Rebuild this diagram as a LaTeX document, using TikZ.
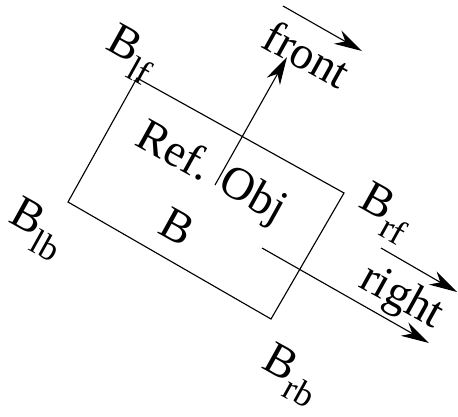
\documentclass[tikz,border=0pt]{standalone}
\usepackage{fontspec}
\setmainfont{Liberation Serif}
\usetikzlibrary{arrows.meta}
\newcommand{\cornerlbl}[2]{#1\raisebox{-0.32em}{\fontsize{25}{25}\selectfont #2}}

\begin{document}
\begin{tikzpicture}[x=0.025cm, y=-0.025cm, line width=0.8pt,
  >={Stealth[length=7mm, width=3.8mm, inset=2.2mm]},
  lbl/.style={rotate=-29, inner sep=0pt, font=\fontsize{33}{36}\selectfont}]
  \useasboundingbox (0,0) rectangle (458,416);
  % box corners
  \coordinate (lf) at (137,78);
  \coordinate (rf) at (344,193);
  \coordinate (rb) at (271,319);
  \coordinate (lb) at (68,202);
  \draw (lf) -- (rf) -- (rb) -- (lb) -- cycle;
  % reference axes
  \coordinate (fs) at (215,185);
  \coordinate (fe) at (287,57);
  \coordinate (rs) at (262,248);
  \coordinate (re) at (429,343);
  \draw[->] (fs) -- (fe);
  \draw[->] (rs) -- (re);
  \coordinate (fas) at (283,6);
  \coordinate (fae) at (362,51);
  \coordinate (ras) at (381,248);
  \coordinate (rae) at (457,292);
  \draw[->] (fas) -- (fae);
  \draw[->] (ras) -- (rae);
  % labels
  \node[lbl] (reflbl) at (211,174) {Ref. Obj};
  \node[lbl] (blbl) at (177,227) {B};
  \node[lbl] (frontlbl) at (307,54) {front};
  \node[lbl] (rightlbl) at (401,298) {right};
  \node[lbl] (blf) at (131,54) {\cornerlbl{B}{lf}};
  \node[lbl] (brf) at (385,213) {\cornerlbl{B}{rf}};
  \node[lbl] (blb) at (37,229) {\cornerlbl{B}{lb}};
  \node[lbl] (brb) at (291,375) {\cornerlbl{B}{rb}};
\end{tikzpicture}
\end{document}
